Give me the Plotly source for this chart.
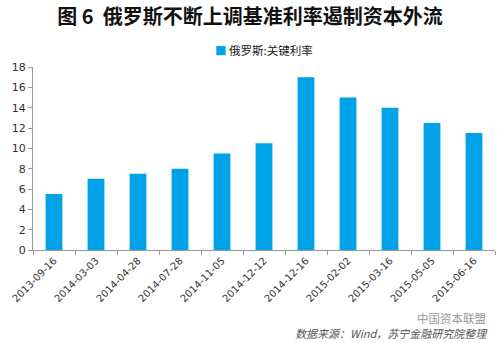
import plotly.graph_objects as go

dates = ["2013-09-16", "2014-03-03", "2014-04-28", "2014-07-28", "2014-11-05",
         "2014-12-12", "2014-12-16", "2015-02-02", "2015-03-16", "2015-05-05", "2015-06-16"]
rates = [5.5, 7.0, 7.5, 8.0, 9.5, 10.5, 17.0, 15.0, 14.0, 12.5, 11.5]
y_ticks = [0, 2, 4, 6, 8, 10, 12, 14, 16, 18]
series_name = "俄罗斯:关键利率"

FONT = "Noto Sans CJK SC"
BLUE = "#00A3E8"

fig = go.Figure()
fig.add_trace(go.Bar(x=dates, y=rates, name=series_name,
                     marker=dict(color=BLUE, line=dict(width=0)),
                     showlegend=False))

fig.update_layout(
    width=500, height=343,
    margin=dict(l=33, r=5, t=67, b=93),
    paper_bgcolor="white", plot_bgcolor="white",
    bargap=0.6,
    font=dict(family=FONT, color="#222"),
    title=dict(text="<b>图 6  俄罗斯不断上调基准利率遏制资本外流</b>",
               x=0.5, xanchor="center", y=0.95, yanchor="middle",
               font=dict(size=20, color="#111", family=FONT)),
    xaxis=dict(type="category", tickangle=-45, tickfont=dict(size=10, color="#333", family="DejaVu Sans"),
               showline=True, linecolor="#999", linewidth=1,
               ticks="outside", tickson="boundaries", ticklen=4, tickcolor="#999",
               showgrid=False),
    yaxis=dict(range=[0, 18], tickvals=y_ticks, tickfont=dict(size=11, color="#333", family="DejaVu Sans"),
               showline=True, linecolor="#999", linewidth=1,
               ticks="outside", ticklen=4, tickcolor="#999",
               showgrid=False, zeroline=False),
)

# legend (small square marker + label)
fig.add_annotation(text=f"<span style='color:{BLUE}'>■</span> {series_name}",
                   xref="paper", yref="paper", x=0.5, y=1.093,
                   xanchor="center", yanchor="middle", showarrow=False,
                   font=dict(size=11.5, color="#222", family=FONT))

fig.add_annotation(text="中国资本联盟", xref="paper", yref="paper",
                   x=0.985, y=-0.372, xanchor="right", yanchor="middle", showarrow=False,
                   font=dict(size=11.5, color="#999", family=FONT))
fig.add_annotation(text="<i>数据来源：Wind，苏宁金融研究院整理</i>", xref="paper", yref="paper",
                   x=0.99, y=-0.455, xanchor="right", yanchor="middle", showarrow=False,
                   font=dict(size=11, color="#555", family=FONT))

fig.write_html("out.html")
